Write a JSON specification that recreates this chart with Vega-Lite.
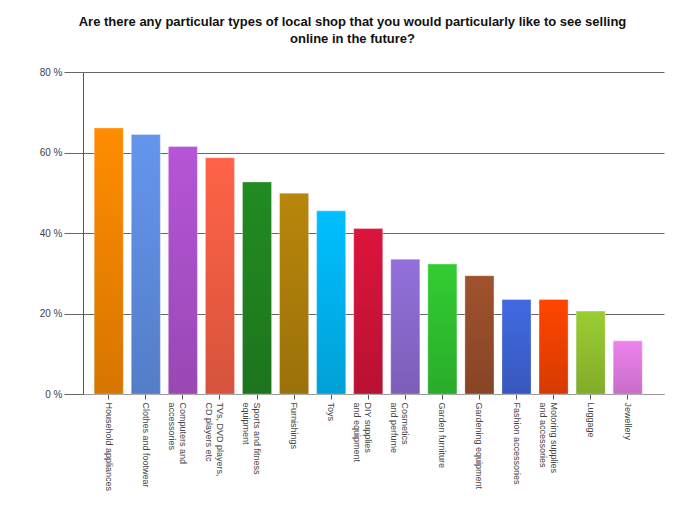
{
  "$schema": "https://vega.github.io/schema/vega-lite/v6.json",
  "autosize": "none",
  "width": 581,
  "height": 322,
  "padding": {"left": 83, "top": 72, "right": 30, "bottom": 126},
  "background": "white",
  "title": {
    "text": ["Are there any particular types of local shop that you would particularly like to see selling", "online in the future?"],
    "font": "Liberation Sans",
    "fontSize": 13,
    "fontWeight": "bold",
    "color": "#111",
    "anchor": "middle",
    "lineHeight": 17,
    "offset": 21,
    "dx": -21
  },
  "data": {
    "values": [
      {"shop": "Household appliances", "pct": 66.1},
      {"shop": "Clothes and footwear", "pct": 64.5},
      {"shop": "Computers and\naccessories", "pct": 61.5},
      {"shop": "TVs, DVD players,\nCD players etc", "pct": 58.7},
      {"shop": "Sports and fitness\nequipment", "pct": 52.7},
      {"shop": "Furnishings", "pct": 49.9},
      {"shop": "Toys", "pct": 45.5},
      {"shop": "DIY supplies\nand equipment", "pct": 41.1},
      {"shop": "Cosmetics\nand perfume", "pct": 33.5},
      {"shop": "Garden furniture", "pct": 32.3},
      {"shop": "Gardening equipment", "pct": 29.4},
      {"shop": "Fashion accessories", "pct": 23.5},
      {"shop": "Motoring supplies\nand accessories", "pct": 23.5},
      {"shop": "Luggage", "pct": 20.6},
      {"shop": "Jewellery", "pct": 13.2}
    ]
  },
  "encoding": {
    "x": {
      "field": "shop",
      "type": "nominal",
      "sort": null,
      "title": null,
      "scale": {"paddingInner": 0.216, "paddingOuter": 0.4445, "align": 0.34},
      "axis": {
        "labelExpr": "split(datum.value, '\\n')",
        "labelAngle": 90,
        "labelAlign": "left",
        "labelBaseline": "middle",
        "labelFont": "Liberation Sans",
        "labelFontSize": 9,
        "labelColor": "#444",
        "labelLineHeight": 11,
        "labelPadding": 3,
        "labelLimit": 200,
        "tickSize": 5,
        "tickColor": "#555",
        "domainColor": "#999",
        "grid": false
      }
    },
    "y": {
      "field": "pct",
      "type": "quantitative",
      "title": null,
      "scale": {"domain": [0, 80], "nice": false},
      "axis": {
        "values": [0, 20, 40, 60, 80],
        "labelExpr": "datum.value + ' %'",
        "labelFont": "Liberation Sans",
        "labelFontSize": 10,
        "labelColor": "#444",
        "labelPadding": 2,
        "tickSize": 19,
        "tickColor": "#666",
        "domainColor": "#555",
        "gridColor": "#666",
        "gridOpacity": 1
      }
    }
  },
  "layer": [
    {
      "mark": {"type": "bar", "stroke": "#ffffff", "strokeOpacity": 0.35, "strokeWidth": 1},
      "encoding": {
        "color": {
          "field": "shop",
          "type": "nominal",
          "sort": null,
          "legend": null,
          "scale": {
            "range": ["#FF8C00", "#6495ED", "#B655D6", "#FF6347", "#228B22", "#B8860B", "#00BFFF", "#DC143C", "#9370DB", "#32CD32", "#A0522D", "#4169E1", "#FF4500", "#9ACD32", "#EE82EE"]
          }
        }
      }
    },
    {
      "mark": {
        "type": "bar",
        "color": {
          "gradient": "linear",
          "x1": 0, "y1": 0, "x2": 0, "y2": 1,
          "stops": [
            {"offset": 0, "color": "rgba(0,0,0,0)"},
            {"offset": 1, "color": "rgba(0,0,0,0.16)"}
          ]
        }
      }
    }
  ],
  "config": {"view": {"stroke": null}}
}
